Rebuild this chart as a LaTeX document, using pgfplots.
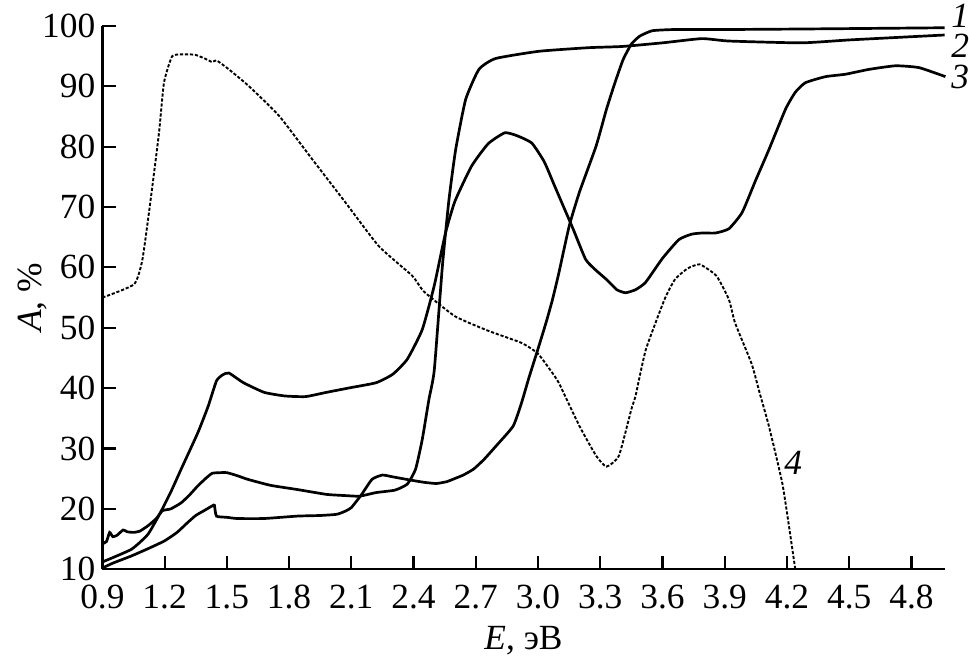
\documentclass[border=0pt]{standalone}
\usepackage{pgfplots}
\pgfplotsset{compat=1.18}
\usepackage{fontspec}
\setmainfont{Liberation Serif}
\begin{document}
\begin{tikzpicture}[font=\fontsize{17.7}{21}\selectfont]
\begin{axis}[
  scale only axis, width=421.35pt, height=271.8pt,
  xmin=0.9, xmax=4.96, ymin=10, ymax=100,
  axis x line=bottom, axis y line=left,
  axis line style={-, line width=1.2pt},
  tick align=inside, major tick length=6.7pt,
  tick style={line width=1.1pt, black},
  xtick={0.9,1.2,1.5,1.8,2.1,2.4,2.7,3.0,3.3,3.6,3.9,4.2,4.5,4.8},
  xticklabels={0.9,1.2,1.5,1.8,2.1,2.4,2.7,3.0,3.3,3.6,3.9,4.2,4.5,4.8},
  ytick={10,20,30,40,50,60,70,80,90,100},
  /pgf/number format/assume math mode=true,
  xticklabel style={yshift=-4.5pt},
  clip=false,
  every axis x label/.style={at={(axis description cs:0.5,-0.131)},anchor=center,inner ysep=6.5pt},
  every axis y label/.style={at={(axis description cs:-0.083,0.5)},anchor=center,rotate=90,inner ysep=9pt},
  xlabel={\textit{E}, эВ},
  ylabel={\textit{A}, \%},
]
% curve 1
\addplot[black, line width=1.35pt, smooth, tension=0.3] coordinates {
(0.9,10.2) (0.95,11.0) (1.04,12.2) (1.12,13.4) (1.2,14.7) (1.26,16.1) (1.31,17.7) (1.35,18.9) (1.39,19.7) (1.43,20.5) (1.44,20.6) (1.45,18.8) (1.50,18.6) (1.55,18.4) (1.68,18.4) (1.84,18.8) (1.95,18.9) (2.03,19.1) (2.07,19.6) (2.10,20.2) (2.15,22.4) (2.20,24.9) (2.25,25.6) (2.30,25.3) (2.38,24.8) (2.45,24.4) (2.51,24.2) (2.56,24.5) (2.59,24.9) (2.64,25.6) (2.69,26.6) (2.74,28.2) (2.80,30.5) (2.88,33.7) (2.92,37.5) (2.956,41.7) (3.0,46.5) (3.04,51) (3.07,54.7) (3.10,59) (3.15,66.8) (3.20,72.5) (3.28,80.1) (3.33,86.2) (3.37,90.5) (3.41,94.4) (3.45,97) (3.49,98.3) (3.55,99.2) (3.65,99.4) (3.87,99.4) (4.3,99.5) (4.96,99.7)
};
% curve 2
\addplot[black, line width=1.35pt, smooth, tension=0.3] coordinates {
(0.9,14.2) (0.92,14.6) (0.935,16.1) (0.95,15.4) (0.97,15.6) (1.0,16.5) (1.02,16.2) (1.05,16.1) (1.08,16.3) (1.12,17.2) (1.16,18.4) (1.19,19.7) (1.23,20.0) (1.28,21.0) (1.32,22.3) (1.36,23.8) (1.40,25.1) (1.43,25.9) (1.47,26.0) (1.50,26.0) (1.55,25.5) (1.60,24.9) (1.71,23.9) (1.84,23.2) (1.98,22.4) (2.07,22.2) (2.14,22.1) (2.22,22.7) (2.31,23.1) (2.37,24.1) (2.41,26.6) (2.442,31.5) (2.474,38.1) (2.50,43) (2.539,60.2) (2.571,71.3) (2.603,79.5) (2.651,87.8) (2.715,92.8) (2.795,94.6) (3.004,95.8) (3.245,96.4) (3.406,96.6) (3.6,97.2) (3.79,97.9) (3.92,97.5) (4.27,97.2) (4.51,97.7) (4.96,98.5)
};
% curve 3
\addplot[black, line width=1.35pt, smooth, tension=0.3] coordinates {
(0.9,11.2) (1.04,13.3) (1.12,15.8) (1.18,19.4) (1.23,22.8) (1.28,26.6) (1.36,32.6) (1.41,37.0) (1.45,41.2) (1.48,42.2) (1.51,42.5) (1.58,40.9) (1.68,39.3) (1.78,38.7) (1.88,38.6) (1.98,39.3) (2.10,40.1) (2.22,40.9) (2.30,42.3) (2.37,44.8) (2.442,49.7) (2.50,57) (2.554,65.7) (2.60,71) (2.68,76.8) (2.76,80.5) (2.84,82.3) (2.90,81.8) (2.97,80.6) (3.03,77.5) (3.08,73.5) (3.13,69.5) (3.17,66.3) (3.23,61.3) (3.28,59.5) (3.33,58.0) (3.38,56.3) (3.422,55.8) (3.47,56.3) (3.518,57.5) (3.60,61.5) (3.679,64.6) (3.74,65.5) (3.792,65.7) (3.856,65.7) (3.92,66.4) (3.984,69.1) (4.05,74.5) (4.113,79.5) (4.193,86.2) (4.24,89) (4.289,90.6) (4.386,91.6) (4.482,92.0) (4.595,92.8) (4.723,93.4) (4.836,93.1) (4.964,91.6)
};
% curve 4
\addplot[black, line width=0.95pt, dash pattern=on 1.6pt off 0.9pt, smooth, tension=0.3] coordinates {
(0.9,55.0) (1.053,57.2) (1.093,61.3) (1.133,71.3) (1.173,82.3) (1.197,90.6) (1.237,95.0) (1.30,95.3) (1.35,95.2) (1.40,94.5) (1.43,94.0) (1.45,94.3) (1.51,92.8) (1.607,90.0) (1.752,85.1) (1.912,77.9) (2.073,70.7) (2.233,63.5) (2.394,58.6) (2.45,56.0) (2.60,51.9) (2.76,49.5) (2.92,47.5) (3.0,45.7) (3.08,42.0) (3.10,40.9) (3.20,33.7) (3.28,28.8) (3.33,27.0) (3.39,28.8) (3.45,36.5) (3.47,38.7) (3.52,46.4) (3.61,54.7) (3.66,58.0) (3.72,59.8) (3.78,60.5) (3.86,58.6) (3.92,54.7) (3.95,50.8) (4.03,44) (4.07,39) (4.113,33.7) (4.18,23.8) (4.24,10.0)
};
\node[inner xsep=0pt, inner ysep=2pt, font=\fontsize{17.7}{21}\itshape] at (axis cs:5.035,101.7) {1};
\node[inner sep=0pt, font=\fontsize{17.7}{21}\itshape] at (axis cs:5.035,96.7) {2};
\node[inner sep=0pt, font=\fontsize{17.7}{21}\itshape] at (axis cs:5.035,91.6) {3};
\node[inner sep=0pt, font=\fontsize{17.7}{21}\itshape] at (axis cs:4.23,27.7) {4};
\end{axis}
\end{tikzpicture}
\end{document}
